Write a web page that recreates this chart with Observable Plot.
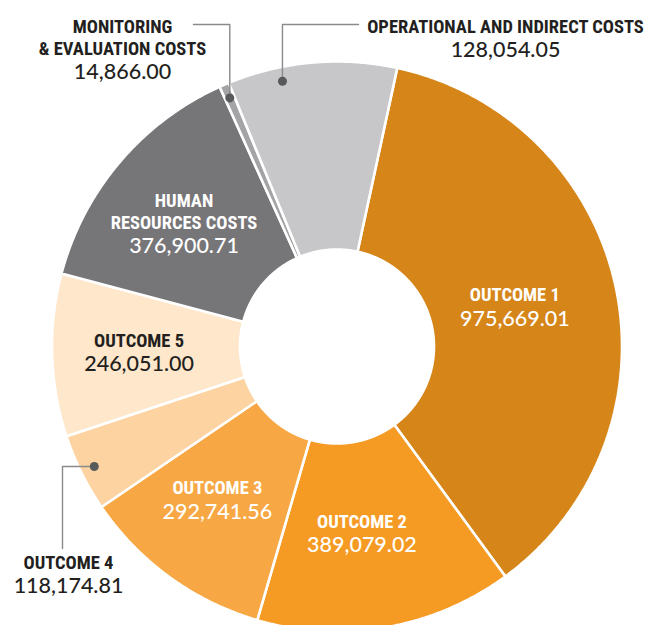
<!DOCTYPE html>
<html>
<head>
<meta charset="utf-8">
<script src="https://cdn.jsdelivr.net/npm/d3@7"></script>
<script src="https://cdn.jsdelivr.net/npm/@observablehq/plot@0.6"></script>
<style>
  html, body { margin: 0; padding: 0; background: #fff; }
  #chart svg { display: block; }
</style>
</head>
<body>
<div id="chart"></div>
<script>
// ---- data ----
const categories = ["OUTCOME 1", "OUTCOME 2", "OUTCOME 3", "OUTCOME 4", "OUTCOME 5",
  "HUMAN RESOURCES COSTS", "MONITORING & EVALUATION COSTS", "OPERATIONAL AND INDIRECT COSTS"];
const titleLines = ["OUTCOME 1", "OUTCOME 2", "OUTCOME 3", "OUTCOME 4", "OUTCOME 5",
  "HUMAN\nRESOURCES COSTS", "MONITORING\n& EVALUATION COSTS", "OPERATIONAL AND INDIRECT COSTS"];
const amounts = [975669.01, 389079.02, 292741.56, 118174.81, 246051.00, 376900.71, 14866.00, 128054.05];
// slice sizes as drawn in the reference (the operational slice is drawn about twice its label)
const drawnAmounts = [975669.01, 389079.02, 292741.56, 118174.81, 246051.00, 376900.71, 14866.00, 256000];
const sliceColors = ["#d68519", "#f59a23", "#f7a743", "#fcd3a1", "#fee7cb", "#767577", "#a4a3a5", "#c7c6c8"];
const labelColors = ["#ffffff", "#ffffff", "#ffffff", "#231f20", "#231f20", "#ffffff", "#231f20", "#231f20"];
const outside = ["OUTCOME 4", "MONITORING & EVALUATION COSTS", "OPERATIONAL AND INDIRECT COSTS"];

// ---- layout ----
const W = 649, H = 625;
const cx = 336.5, cy = 346, R = 285, R0 = 97;
const start = 12.2 * Math.PI / 180;
const calloutLayout = {
  "OUTCOME 4": {kind: "down", along: 0.5, elbowX: 62, endY: 548, textX: 68, titleY: 568},
  "MONITORING & EVALUATION COSTS": {kind: "up", along: 0.5, elbowY: 24, endX: 193, textX: 122, titleY: 54},
  "OPERATIONAL AND INDIRECT COSTS": {kind: "up", along: 0.31, elbowY: 24, endX: 358, textX: 505, titleY: 32}
};

const rows = categories.map((c, i) => ({
  cat: c, title: titleLines[i], amount: amounts[i], drawn: drawnAmounts[i],
  color: sliceColors[i], labelColor: labelColors[i]
}));

const pie = d3.pie().sort(null).value(d => d.drawn).startAngle(start).endAngle(start + 2 * Math.PI);
const arcs = pie(rows);
const pt = (a, rad) => [cx + rad * Math.sin(a), cy - rad * Math.cos(a)];

// slice polygons
const slicePts = [];
for (const a of arcs) {
  const n = Math.max(2, Math.ceil((a.endAngle - a.startAngle) / (0.4 * Math.PI / 180)));
  const poly = [];
  for (let k = 0; k <= n; k++) poly.push(pt(a.startAngle + (a.endAngle - a.startAngle) * k / n, R));
  for (let k = n; k >= 0; k--) poly.push(pt(a.startAngle + (a.endAngle - a.startAngle) * k / n, R0));
  poly.push(poly[0]);
  for (const [x, y] of poly) slicePts.push({cat: a.data.cat, color: a.data.color, x, y});
}

const fmt = d3.format(",.2f");
const gap = 24.5;
const labels = [];
const leaderPts = [];
const dots = [];
for (const a of arcs) {
  const d = a.data;
  const nLines = d.title.split("\n").length;
  if (outside.includes(d.cat)) {
    const L = calloutLayout[d.cat];
    const ang = a.startAngle + (a.endAngle - a.startAngle) * L.along;
    const [dx, dy] = pt(ang, 0.95 * R);
    dots.push({x: dx, y: dy});
    const path = L.kind === "down"
      ? [[dx, dy], [L.elbowX, dy], [L.elbowX, L.endY]]
      : [[dx, dy], [dx, L.elbowY], [L.endX, L.elbowY]];
    for (const [x, y] of path) leaderPts.push({cat: d.cat, x, y});
    labels.push({x: L.textX, titleY: L.titleY, valueY: L.titleY + gap, title: d.title,
      value: fmt(d.amount), fill: d.labelColor});
  } else {
    const mid = (a.startAngle + a.endAngle) / 2;
    const [lx, ly] = pt(mid, 190);
    const blockH = 13 + 22 * (nLines - 1) + gap;
    const valueY = ly + blockH / 2;
    labels.push({x: lx - 8, titleY: valueY - gap, valueY, title: d.title,
      value: fmt(d.amount), fill: d.labelColor});
  }
}

const titleFont = "'Liberation Sans Narrow', 'Roboto Condensed', 'DejaVu Sans Condensed', 'Arial Narrow', sans-serif";

const chart = Plot.plot({
  width: W, height: H, margin: 0,
  x: {domain: [0, W], range: [0, W], axis: null},
  y: {domain: [0, H], range: [0, H], axis: null},
  color: {type: "identity"},
  marks: [
    Plot.line(slicePts, {x: "x", y: "y", z: "cat", fill: "color", stroke: "#ffffff",
      strokeWidth: 2.6, strokeLinejoin: "miter"}),
    Plot.line(leaderPts, {x: "x", y: "y", z: "cat", stroke: "#8a8a8c", strokeWidth: 1.4}),
    Plot.dot(dots, {x: "x", y: "y", r: 4.5, fill: "#58595b"}),
    Plot.text(labels, {x: "x", y: "titleY", text: "title", fill: "fill", textAnchor: "middle",
      lineAnchor: "bottom", lineHeight: 22 / 18.5, fontSize: 18.5, fontWeight: 700,
      fontFamily: titleFont}),
    Plot.text(labels, {x: "x", y: "valueY", text: "value", fill: "fill", textAnchor: "middle",
      lineAnchor: "bottom", fontSize: 21.5, fontWeight: 500, fontFamily: "Lato, 'Open Sans', sans-serif"})
  ]
});
document.getElementById("chart").appendChild(chart);
</script>
</body>
</html>
